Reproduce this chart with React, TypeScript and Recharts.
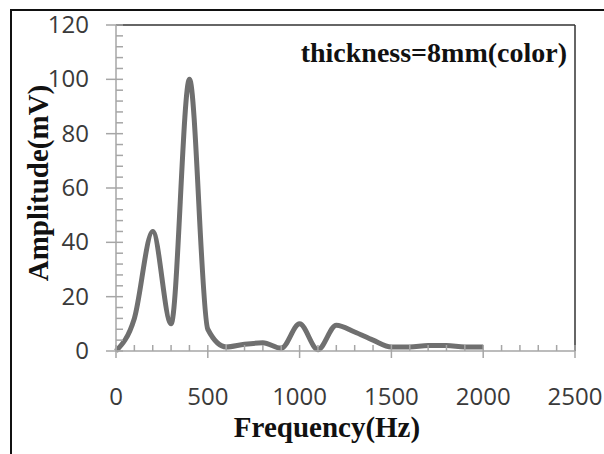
import React from 'react'
import { LineChart, Line, XAxis, YAxis, ReferenceLine } from 'recharts'

// frequency (Hz) and amplitude (mV)
const frequencies = [0, 100, 200, 300, 400, 500, 600, 700, 800, 900, 1000, 1100, 1200, 1300, 1400, 1500, 1600, 1700, 1800, 1900, 2000]
const amplitudes = [0, 12, 44, 10, 100, 8, 1.5, 2.5, 3, 1, 10, 0.5, 9.5, 7, 4, 1.5, 1.5, 2, 2, 1.5, 1.5]

const xTicks = Array.from({ length: 26 }, (_, i) => i * 100)
const yTicks = Array.from({ length: 31 }, (_, i) => i * 4)

const data = frequencies.map((f, i) => ({ freq: f, amp: amplitudes[i] }))

const axisGray = '#a6a6a6'
const labelColor = '#3a3a3a'
const serif = '"Liberation Serif", "Times New Roman", serif'
const sans = '"Open Sans", "Noto Sans", sans-serif'

function XTick(props: any) {
  const { x, y, payload } = props
  const major = payload.value % 500 === 0
  return (
    <g>
      <line x1={x} x2={x} y1={y - 6} y2={major ? y + 7 : y} stroke={axisGray} strokeWidth={1.5} />
      {major && (
        <text x={x} y={y + 54} textAnchor="middle" fontFamily={sans} fontSize={24} fill={labelColor}>
          {payload.value}
        </text>
      )}
    </g>
  )
}

function YTick(props: any) {
  const { x, y, payload } = props
  const major = payload.value % 20 === 0
  return (
    <g>
      <line x1={major ? x - 10 : x} x2={x + 7} y1={y} y2={y} stroke={axisGray} strokeWidth={1.5} />
      {major && (
        <text x={x - 27} y={y + 8} textAnchor="end" fontFamily={sans} fontSize={24} fill={labelColor}>
          {payload.value}
        </text>
      )}
    </g>
  )
}

export default function App() {
  return (
    <div style={{ position: 'absolute', left: 0, top: 0, width: 604, height: 454, background: '#fff', overflow: 'hidden' }}>
      <div
        style={{
          position: 'absolute',
          left: 10,
          top: 9,
          width: 620,
          height: 470,
          borderLeft: '2px solid #111',
          borderTop: '2px solid #111',
        }}
      />
      <LineChart
        width={604}
        height={454}
        data={data}
        margin={{ top: 25, right: 29, left: 0, bottom: 0 }}
        style={{ position: 'absolute', left: 0, top: 0 }}
      >
        <ReferenceLine y={120} stroke="#333" strokeWidth={1.5} />
        <ReferenceLine x={2500} stroke="#333" strokeWidth={1.5} />
        <XAxis
          dataKey="freq"
          type="number"
          domain={[0, 2500]}
          ticks={xTicks}
          interval={0}
          height={103}
          tickSize={0}
          tickMargin={0}
          stroke={axisGray}
          strokeWidth={1.5}
          tick={<XTick />}
          label={{
            content: () => (
              <text x={327} y={437} textAnchor="middle" fontFamily={serif} fontWeight="bold" fontSize={29} fill="#111">
                Frequency(Hz)
              </text>
            ),
          }}
        />
        <YAxis
          type="number"
          domain={[0, 120]}
          ticks={yTicks}
          interval={0}
          width={116}
          tickSize={0}
          tickMargin={0}
          stroke={axisGray}
          strokeWidth={1.5}
          tick={<YTick />}
          label={{
            content: () => (
              <text
                x={48}
                y={183}
                transform="rotate(-90, 48, 183)"
                textAnchor="middle"
                fontFamily={serif}
                fontWeight="bold"
                fontSize={29}
                fill="#111"
              >
                Amplitude(mV)
              </text>
            ),
          }}
        />
        <Line
          type="monotone"
          dataKey="amp"
          stroke="#6f6f6f"
          strokeWidth={5}
          dot={false}
          isAnimationActive={false}
        />
        <text x={567} y={62} textAnchor="end" fontFamily={serif} fontWeight="bold" fontSize={28} fill="#111">
          thickness=8mm(color)
        </text>
      </LineChart>
    </div>
  )
}
